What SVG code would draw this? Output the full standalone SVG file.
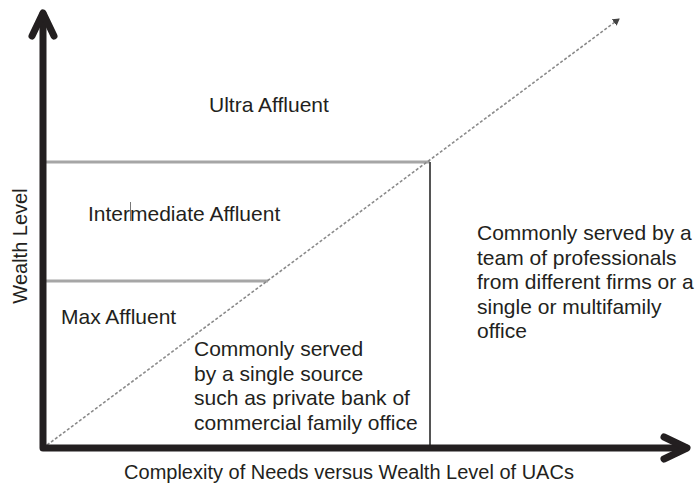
<svg xmlns="http://www.w3.org/2000/svg" width="697" height="485" viewBox="0 0 697 485">
  <style>
    text { font-family: "Liberation Sans", Arial, sans-serif; fill: #231f20; }
    .lbl { font-size: 21px; }
    .ax { font-size: 20px; }
    .axis { stroke: #231f20; stroke-width: 7; fill: none; stroke-linecap: round; stroke-linejoin: round; }
    .band { stroke: #a6a6a6; stroke-width: 3; fill: none; }
    .split { stroke: #555; stroke-width: 2; fill: none; }
    .diag { stroke: #8a8a8a; stroke-width: 1.6; stroke-dasharray: 3 2; fill: none; }
  </style>
  <defs>
    <marker id="dhead" markerWidth="8" markerHeight="8" refX="6" refY="4" orient="auto" markerUnits="userSpaceOnUse">
      <path d="M0,0 L7,4 L0,8 z" fill="#444"/>
    </marker>
  </defs>
  <rect width="697" height="485" fill="#fff"/>
  <g id="connectors">
    <path class="band" d="M43,162 H430"/>
    <path class="band" d="M43,281 H268"/>
    <path class="split" d="M430,162 V448"/>
    <path class="diag" d="M43,448 L619,19" marker-end="url(#dhead)"/>
    <path class="axis" d="M43,14 V448 H686"/>
    <path class="axis" d="M32,36 L43,13 L54,36"/>
    <path class="axis" d="M664,437 L687,448 L664,459"/>
  </g>
  <g id="ultra"><text class="lbl" x="209" y="112">Ultra Affluent</text></g>
  <g id="intermediate">
    <text class="lbl" x="88" y="221">Intermediate Affluent</text>
    <line x1="130.5" y1="202" x2="130.5" y2="221" stroke="#555" stroke-width="0.8"/>
  </g>
  <g id="max"><text class="lbl" x="61" y="324">Max Affluent</text></g>
  <g id="single-source">
    <text class="lbl" x="194" y="356">Commonly served</text>
    <text class="lbl" x="194" y="380.5">by a single source</text>
    <text class="lbl" x="194" y="405">such as private bank of</text>
    <text class="lbl" x="194" y="429.5">commercial family office</text>
  </g>
  <g id="team">
    <text class="lbl" x="477" y="240">Commonly served by a</text>
    <text class="lbl" x="477" y="264.5">team of professionals</text>
    <text class="lbl" x="477" y="289">from different firms or a</text>
    <text class="lbl" x="477" y="313.5">single or multifamily</text>
    <text class="lbl" x="477" y="338">office</text>
  </g>
  <g id="y-label"><text class="ax" transform="translate(27,246) rotate(-90)" text-anchor="middle">Wealth Level</text></g>
  <g id="x-label"><text class="ax" x="349" y="479" text-anchor="middle">Complexity of Needs versus Wealth Level of UACs</text></g>
</svg>
